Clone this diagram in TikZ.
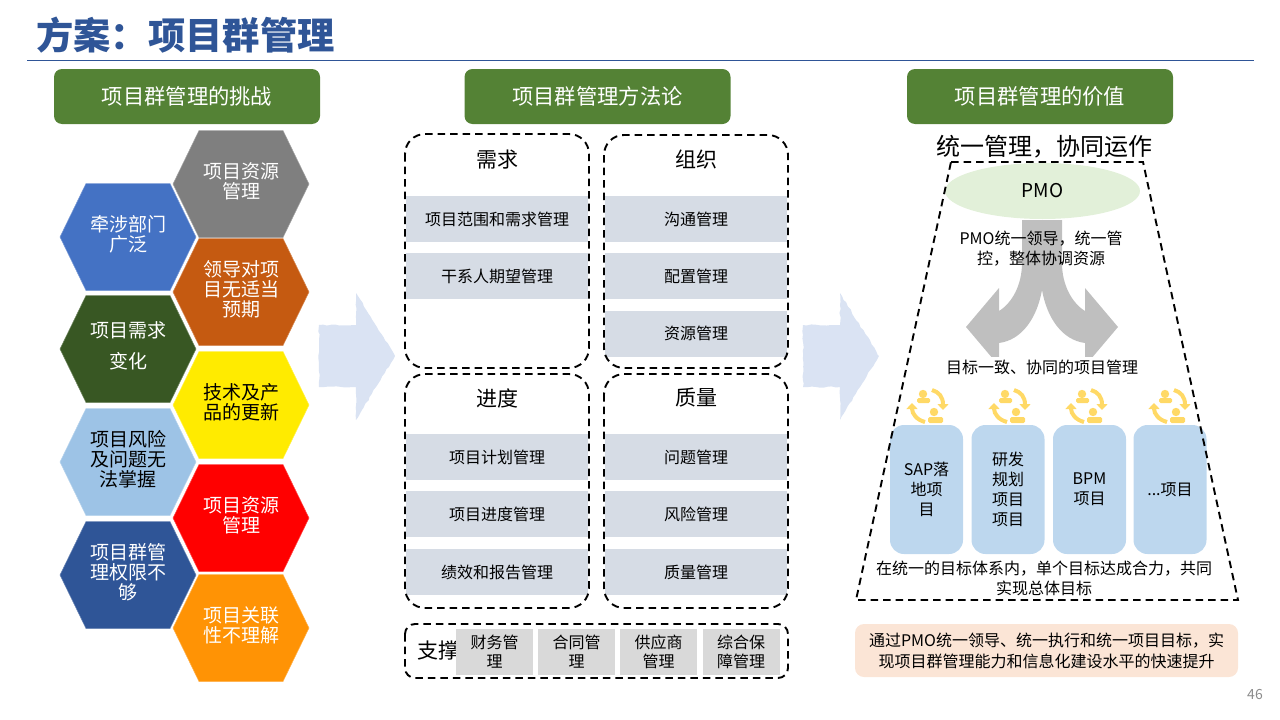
\documentclass[tikz,border=0pt]{standalone}
\usepackage{fontspec}
\setmainfont{Noto Sans CJK SC}
\usetikzlibrary{arrows.meta,shapes.geometric,decorations.pathmorphing}
\definecolor{titleblue}{HTML}{2F5597}
\definecolor{headgreen}{HTML}{548235}
\definecolor{stripgray}{HTML}{D6DCE5}
\definecolor{cellgray}{HTML}{D9D9D9}
\definecolor{paleblue}{HTML}{DAE3F3}
\definecolor{boxblue}{HTML}{BDD7EE}
\definecolor{iconyellow}{HTML}{FFD966}
\definecolor{pmogreen}{HTML}{E2F0D9}
\definecolor{notepink}{HTML}{FBE5D6}
\definecolor{forkgray}{HTML}{BFBFBF}
\definecolor{hexgray}{HTML}{7F7F7F}
\definecolor{hexblue}{HTML}{4472C4}
\definecolor{hexrust}{HTML}{C55A11}
\definecolor{hexforest}{HTML}{385723}
\definecolor{hexyellow}{HTML}{FFEB00}
\definecolor{hexsky}{HTML}{9DC3E6}
\definecolor{hexred}{HTML}{FF0000}
\definecolor{hexnavy}{HTML}{2F5597}
\definecolor{hexorange}{HTML}{FF9305}
\newcommand{\fs}[2]{\fontsize{#1}{#2}\selectfont}
\tikzset{
    headbox/.style={fill=headgreen,rounded corners=8pt,minimum width=266pt,minimum height=55pt,inner sep=0pt,text=white,font=\fs{21.3}{24}},
    hextext/.style={inner sep=0pt,align=center,font=\fs{19}{20}},
    dashbox/.style={draw=black,line width=1.9pt,dash pattern=on 7.5pt off 5pt,rounded corners=20pt},
    strip/.style={fill=stripgray,minimum width=182pt,minimum height=46pt,inner sep=0pt,font=\fs{16}{19}},
    cell/.style={fill=cellgray,minimum width=77pt,minimum height=46pt,inner sep=0pt,align=center,font=\fs{16}{19}},
    grouplabel/.style={inner sep=0pt,font=\fs{21}{24}},
    projbox/.style={fill=boxblue,rounded corners=14pt,minimum width=73pt,minimum height=129pt,inner sep=0pt,align=center,font=\fs{16}{20}},
    plaintext/.style={inner sep=0pt,align=center,font=\fs{16}{20}},
    arrowfill/.style={fill=paleblue,decorate,decoration={random steps,segment length=4pt,amplitude=0.7pt}},
    cycleicon/.pic={
        \draw[iconyellow,line width=4pt,-{Triangle[length=6pt,width=11pt]}] (4,-15) .. controls (11,-13) and (15,-8) .. (15,5);
        \draw[iconyellow,line width=4pt,-{Triangle[length=6pt,width=11pt]}] (-3,17) .. controls (-11,15) and (-16,9) .. (-16,-2);
        \fill[iconyellow] (-5,-11) circle (4.2pt);
        \fill[iconyellow,rounded corners=1.5pt] (-11,-2) rectangle (2,-7);
        \fill[iconyellow] (6,7) circle (4.2pt);
        \fill[iconyellow,rounded corners=1.5pt] (0,18) rectangle (15,12);
    }
}
\begin{document}
\begin{tikzpicture}[x=1pt,y=-1pt]
    \useasboundingbox (0,0) rectangle (1280,720);
    %% Title
    \node[anchor=west,inner sep=0pt,text=titleblue,font=\fs{37.3}{42}\bfseries] (title) at (36,35) {方案：项目群管理};
    \coordinate (ruleL) at (27,60.7);
    \coordinate (ruleR) at (1254,60.7);
    \draw[titleblue,line width=1.2pt] (ruleL) -- (ruleR);
    %% Headers
    \node[headbox] (headA) at (187,96.5) {项目群管理的挑战};
    \node[headbox] (headB) at (597.5,96.5) {项目群管理方法论};
    \node[headbox] (headC) at (1040,96.5) {项目群管理的价值};
    %% Hexagons
    \foreach \n/\cx/\cy/\col/\tcol/\txt in {
        a/241/184/hexgray/white/{项目资源\\管理},
        b/128/237/hexblue/white/{牵涉部门\\广泛},
        c/241/292/hexrust/white/{领导对项\\目无适当\\预期},
        d/128/349/hexforest/white/{项目需求\\[11pt]变化},
        e/241/405/hexyellow/black/{技术及产\\品的更新},
        f/128/462/hexsky/black/{项目风险\\及问题无\\法掌握},
        g/241/518/hexred/white/{项目资源\\管理},
        h/128/575/hexnavy/white/{项目群管\\理权限不\\够},
        i/241/628/hexorange/white/{项目关联\\性不理解}}{
        \fill[\col,draw=\col!70!white,line width=0.5pt] (\cx-68,\cy) -- (\cx-42,\cy-53.5) -- (\cx+42,\cy-53.5) -- (\cx+68,\cy) -- (\cx+42,\cy+53.5) -- (\cx-42,\cy+53.5) -- cycle;
        \node[hextext,text=\tcol] (hex\n) at (\cx,\cy-3) {\txt};
    }
    %% Block arrows
    \foreach \n/\ax in {one/319,two/803}{
        \fill[arrowfill] (\ax,325) -- (\ax+37,325) -- (\ax+37,293) -- (\ax+76,356) -- (\ax+37,420) -- (\ax+37,387) -- (\ax,387) -- cycle;
    }
    %% Method strips
    \foreach \n/\cx/\cy/\txt in {
        a/497/219/项目范围和需求管理,
        b/497/276/干系人期望管理,
        c/696/219/沟通管理,
        d/696/276/配置管理,
        e/696/333.5/资源管理,
        f/497/457/项目计划管理,
        g/497/514/项目进度管理,
        h/497/572/绩效和报告管理,
        i/696/457/问题管理,
        j/696/514/风险管理,
        k/696/572/质量管理}{
        \node[strip] (strip\n) at (\cx,\cy) {\txt};
    }
    %% Method groups
    \draw[dashbox] (405,134) rectangle (589,368);
    \draw[dashbox] (604,135) rectangle (788,368);
    \draw[dashbox] (405,374) rectangle (589,608);
    \draw[dashbox] (604,374) rectangle (788,608);
    \node[grouplabel] (need) at (497,160) {需求};
    \node[grouplabel] (org) at (696,160) {组织};
    \node[grouplabel] (prog) at (497,398) {进度};
    \node[grouplabel] (qual) at (696,398) {质量};
    %% Support row
    \draw[dashbox,rounded corners=10pt] (405,624) rectangle (788,678);
    \node[grouplabel] (support) at (438,651) {支撑};
    \node[cell] (cellA) at (494.5,652) {财务管\\理};
    \node[cell] (cellB) at (576.5,652) {合同管\\理};
    \node[cell] (cellC) at (658.5,652) {供应商\\管理};
    \node[cell] (cellD) at (741,652) {综合保\\障管理};
    %% Value side
    \node[inner sep=0pt,font=\fs{24}{28}] (slogan) at (1044,147) {统一管理，协同运作};
    \node[ellipse,fill=pmogreen,minimum width=195pt,minimum height=56pt,inner sep=0pt,font=\fs{19}{20}] (pmo) at (1042.5,191) {PMO};
    %% Fork
    \fill[forkgray] (1022,220) -- (1062,220) -- (1062,263) .. controls (1062,285) and (1072,303) .. (1085,311) -- (1085,288) -- (1118,327) -- (1085,366) -- (1085,343) .. controls (1062,340) and (1047,318) .. (1042,290) .. controls (1037,318) and (1022,340) .. (999,343) -- (999,366) -- (966,327) -- (999,288) -- (999,311) .. controls (1012,303) and (1022,285) .. (1022,263) -- cycle;
    \node[plaintext] (lead) at (1041,249) {PMO统一领导，统一管\\控，整体协调资源};
    \node[plaintext,fill=white,minimum width=200pt,minimum height=20pt] (goal) at (1042,367) {目标一致、协同的项目管理};
    %% Projects
    \foreach \n/\cx/\ix/\txt in {
        a/926.5/928/{SAP落\\地项\\目},
        b/1008/1010/{研发\\规划\\项目\\项目},
        c/1089.5/1087/{BPM\\项目},
        d/1170/1170/{...项目}}{
        \node[projbox] (proj\n) at (\cx,489.5) {\txt};
        \pic at (\ix,405) {cycleicon};
    }
    \node[plaintext] (joint) at (1044,578) {在统一的目标体系内，单个目标达成合力，共同\\实现总体目标};
    %% Trapezoid
    \coordinate (trapA) at (951,162);
    \coordinate (trapB) at (1143,162);
    \coordinate (trapC) at (1238,600);
    \coordinate (trapD) at (856,600);
    \draw[dashbox,rounded corners=0pt] (trapA) -- (trapB) -- (trapC) -- (trapD) -- cycle;
    %% Note
    \node[fill=notepink,rounded corners=9pt,minimum width=383pt,minimum height=53pt,inner sep=0pt,align=center,font=\fs{16}{21}] (note) at (1046.5,650.5) {通过PMO统一领导、统一执行和统一项目目标，实\\现项目群管理能力和信息化建设水平的快速提升};
    \node[inner sep=0pt,text=black!45,font=\fs{14}{16}] (pagenum) at (1255,695) {46};
\end{tikzpicture}
\end{document}
